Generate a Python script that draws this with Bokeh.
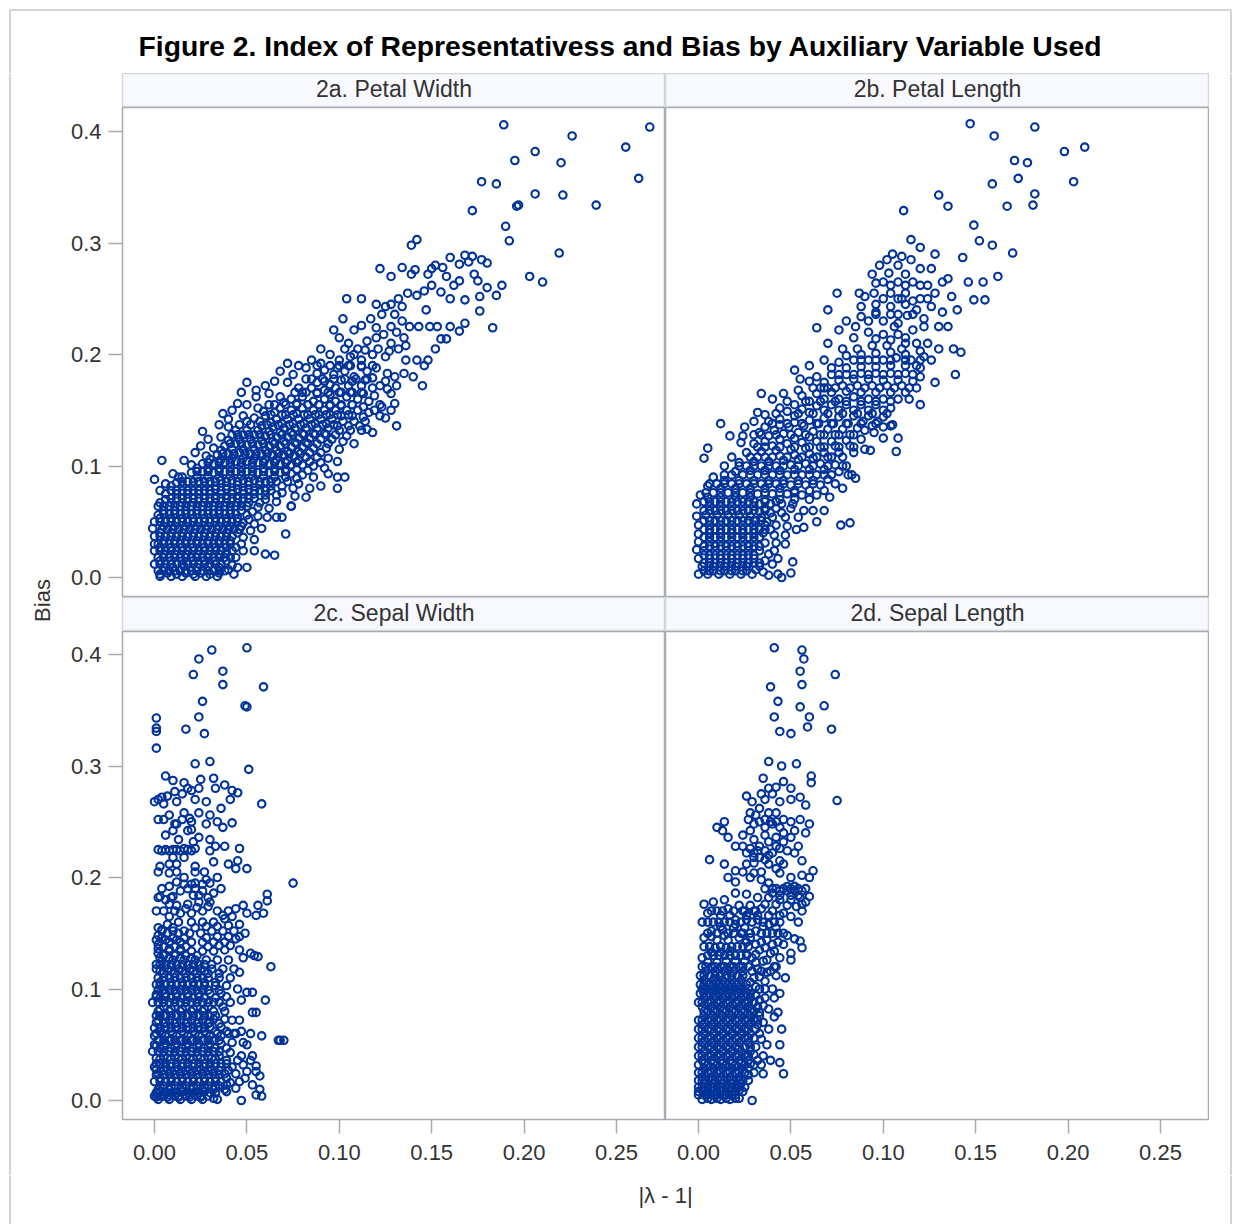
from bokeh.plotting import figure
from bokeh.layouts import column, row
from bokeh.models import Range1d, Label, FixedTicker, NumeralTickFormatter
from bokeh.embed import file_html
from bokeh.resources import INLINE
from bokeh.core.validation import silence
from bokeh.core.validation.warnings import MISSING_RENDERERS

silence(MISSING_RENDERERS, True)

TITLE = "Figure 2. Index of Representativess and Bias by Auxiliary Variable Used"
X_LABEL = "|λ - 1|"
Y_LABEL = "Bias"
PANEL_TITLES = ["2a. Petal Width", "2b. Petal Length", "2c. Sepal Width", "2d. Sepal Length"]
X_TICKS = [0.00, 0.05, 0.10, 0.15, 0.20, 0.25]
Y_TICKS = [0.0, 0.1, 0.2, 0.3, 0.4]

# (|lambda - 1|, Bias) pairs, in thousandths
petal_width = [
(189,406),(268,404),(226,396),(206,382),(255,386),(220,372),(195,374),(177,355),(185,353),(262,358),(206,344),(221,343),
(172,329),(196,333),(197,334),(239,334),(190,315),(192,302),(142,303),(139,298),(219,291),(203,270),(210,265),
(168,289),(172,288),(160,287),(177,285),(180,282),(152,280),(150,277),(148,272),(141,276),(139,272),(134,278),(128,270),(122,277),
(165,281),(170,283),(156,278),(158,270),(162,262),(165,266),(173,272),(175,266),(180,260),(188,262),(185,253),(176,252),(168,249),
(160,250),(155,256),(150,262),(146,257),(142,253),(137,255),(132,250),(128,245),(125,243),(120,245),(112,250),(104,250),(176,239),
(183,224),(168,228),(165,221),(160,225),(158,214),(149,225),(153,225),(134,230),(128,225),(120,224),(112,226),(102,232),(108,222),(97,222),
(90,205),(95,200),(100,215),(105,210),(110,205),(115,212),(120,215),(124,218),(128,210),(132,205),(136,195),(125,198),(118,200),(112,195),
(106,198),(100,195),(95,190),(90,192),(85,195),(82,188),(78,190),(72,192),(68,185),(75,182),(82,178),(88,183),(92,176),(97,182),(103,185),
(108,180),(115,185),(120,188),(126,183),(130,180),(135,183),(142,195),(148,195),(122,172),(128,165),(118,170),(112,172),(105,172),(98,170),
(92,168),(85,170),(78,170),(72,175),(65,176),(60,172),(55,168),(50,175),(47,166),(55,162),(62,165),(68,162),(74,160),(80,162),(86,158),
(92,160),(98,158),(104,162),(110,160),(116,158),(122,155),(128,150),(122,145),(116,148),(110,150),(104,150),(98,150),(92,150),(86,150),
(80,152),(74,150),(68,152),(62,155),(56,152),(50,155),(45,156),(42,150),(37,147),(40,142),(48,145),(54,143),(60,145),(66,142),(72,142),
(78,142),(84,142),(90,142),(96,142),(102,140),(108,140),(114,140),(118,130),(112,132),(106,132),(100,132),(94,134),(88,134),(82,134),
(76,134),(70,134),(64,135),(58,136),(52,137),(46,137),(40,135),(35,137),(26,131),(29,124),(36,126),(42,128),(48,128),(54,128),(60,127),
(66,126),(72,126),(78,125),(84,125),(90,124),(96,124),(102,122),(108,120),(100,115),(93,116),(86,116),(80,117),(74,117),(68,118),(62,118),
(56,119),(50,119),(44,120),(38,118),(32,116),(25,118),(22,112),(28,109),(34,110),(40,111),(46,112),(52,111),(58,111),(64,110),(70,110),
(76,109),(82,108),(88,108),(94,107),(99,104),(92,98),(86,100),(80,101),(74,101),(68,102),(62,102),(56,103),(50,104),(44,104),(38,103),
(32,102),(26,102),(20,101),(16,105),(4,105),(0,88),(10,93),(15,90),(20,94),(26,95),(32,94),(38,95),(44,95),(50,95),(56,94),(62,94),
(68,94),(74,93),(80,92),(86,90),(94,93),(99,90),(103,90),(99,80),(90,82),(84,80),(78,84),(72,86),(66,86),(60,86),(54,87),(48,87),(42,87),
(36,87),(30,86),(24,86),(18,86),(12,85),(6,84),(3,78),(9,78),(15,78),(21,78),(27,78),(33,79),(39,79),(45,79),(51,79),(57,78),(63,78),
(69,76),(76,73),(82,72),(74,64),(66,68),(60,70),(54,71),(48,71),(42,71),(36,71),(30,71),(24,71),(18,71),(12,71),(6,70),(2,64),(8,64),
(14,64),(20,64),(26,64),(32,64),(38,64),(44,64),(50,64),(56,63),(62,62),(66,54),(69,54),(61,54),(56,55),(50,56),(44,57),(38,57),(32,57),
(26,57),(20,57),(14,57),(8,57),(2,56),(0,50),(6,50),(12,50),(18,50),(24,50),(30,50),(36,50),(42,50),(48,49),(54,48),(58,44),(52,42),
(46,43),(40,43),(34,43),(28,43),(22,43),(16,43),(10,43),(4,43),(-1,44),(0,37),(6,37),(12,37),(18,37),(24,37),(30,37),(36,37),(42,37),(48,36),
(71,39),(54,34),(47,30),(41,30),(35,30),(29,30),(23,30),(17,30),(11,30),(5,30),(0,30),(0,24),(6,24),(12,24),(18,24),(24,24),(30,24),(36,24),
(42,24),(48,24),(54,24),(60,21),(65,20),(44,18),(38,18),(32,18),(26,18),(20,18),(14,18),(8,18),(2,18),(0,12),(6,12),(12,12),(18,12),(24,12),
(30,12),(36,12),(42,11),(45,9),(50,9),(2,6),(8,6),(14,6),(20,6),(26,6),(32,6),(38,6),(43,3),(3,1),(9,1),(15,1),(22,1),(28,1),(34,1),
(74,64),(115,133),(131,136),(125,143),(123,153),(130,156),(145,172),(126,169),(140,180),(146,190),(152,205),(155,214),(135,215),(138,225),
(143,225),(147,240),(134,243),(130,236),
]
petal_width_dense = [
(3,3),(7,4),(12,3),(17,4),(21,3),(25,4),(30,3),(35,4),(40,7),(5,9),(10,9),(16,10),(23,9),(29,10),(35,9),(3,15),(9,15),(15,15),(21,15),(27,15),(33,15),(39,15),
(5,21),(11,21),(17,21),(23,21),(29,21),(35,21),(39,22),(3,27),(9,27),(15,27),(21,27),(27,27),(33,27),(39,27),(44,27),(5,33),(11,33),(17,33),(23,33),(29,33),(35,33),
(41,33),(3,40),(9,40),(15,40),(21,40),(27,40),(33,40),(39,40),(45,40),(5,46),(11,46),(17,46),(23,46),(29,46),(35,46),(41,46),(47,46),(3,53),(9,53),(15,53),(21,53),
(27,53),(33,53),(39,53),(45,53),(51,52),(5,60),(11,60),(17,60),(23,60),(29,60),(35,60),(41,60),(47,60),(53,59),(3,67),(9,67),(15,67),(21,67),(27,67),(33,67),(39,67),
(45,67),(51,67),(57,67),(6,75),(12,75),(18,75),(24,75),(30,75),(36,75),(42,75),(48,75),(54,75),(60,74),(66,74),(9,82),(15,82),(21,82),(27,82),(33,82),(39,82),(45,83),
(51,83),(57,83),(63,82),(69,82),(75,80),(13,90),(23,90),(29,90),(35,90),(41,91),(47,91),(53,91),(59,91),(65,90),(71,90),(77,89),(23,98),(29,98),(35,98),(41,99),(47,99),
(53,99),(59,98),(65,98),(71,97),(77,97),(83,96),(30,106),(36,106),(42,107),(48,107),(54,107),(60,106),(66,106),(72,105),(78,105),(84,104),(90,103),(36,114),(42,115),
(48,115),(54,115),(60,114),(66,114),(72,113),(78,113),(84,112),(90,112),(40,123),(46,124),(52,124),(58,123),(64,122),(70,122),(76,121),(82,121),(88,120),(94,120),(44,132),
(50,132),(56,132),(62,131),(68,130),(74,130),(80,129),(86,129),(92,129),(98,128),(104,127),(50,140),(57,140),(63,139),(69,138),(75,138),(81,138),(87,138),(93,138),(99,136),
(105,136),(111,136),(59,149),(65,148),(71,146),(77,147),(83,146),(89,146),(95,146),(101,145),(107,145),(113,144),(70,157),(77,156),(83,155),(89,155),(95,154),(101,154),
(107,155),(113,153),(119,150),(80,166),(88,165),(95,164),(101,166),(107,166),(113,165),(119,163),(88,175),(95,173),(101,177),(107,176),(114,177),(92,186),(99,188),(105,190),
(112,189),(118,179),(125,176),(131,172),(103,205),(108,200),(114,204),(121,205),(127,203),(117,232),(123,236),(131,220),(136,208),
]
# further estimated marks in the solid areas: Bias row -> |lambda - 1| values, in thousandths
petal_width_rows = {
6:[5,11,17,23,29,35],12:[3,9,15,21,27,33],18:[5,11,17,23,29,35,41],24:[3,9,15,21,27,33],30:[2,8,14,20,26,32,38],37:[3,9,15,21,27,33,39],
43:[7,13,19,25,31,37,43],50:[3,9,15,21,27,33,39,45],57:[5,11,17,23,29,35,41],64:[5,11,17,23,29,35,41,47],71:[9,15,21,27,33,39,45,51],
78:[12,18,24,30,36,42,48,54,60],86:[15,21,27,33,39,45,51,57,63],95:[23,29,35,41,47,53,59,65,71],103:[29,35,41,47,53,59,65,71,77],
111:[37,43,49,55,61,67,73,79],120:[41,47,53,59,65,71,77,83],128:[45,51,57,63,69,75,81,87,93],137:[61,67,73,79,85,91,97],
146:[63,69,75,81,87,93,99,105],155:[65,71,77,83,89,95,101,107],166:[76,82,88,94,100,106,112],178:[85,91,97,103,109,115],190:[88,100,106,112,118],
}

petal_length = [
(147,407),(182,404),(160,396),(209,386),(198,382),(171,374),(178,372),(173,358),(203,355),(159,353),(182,344),(130,343),(181,334),(135,333),
(167,333),(111,329),(149,316),(152,302),(115,303),(159,298),(170,291),(143,287),(162,270),(154,265),(149,249),(155,249),(137,252),(142,202),
(139,182),(107,113),(93,114),(82,49),(77,47),(12,138),(5,116),(3,107),(17,127),(24,127),(23,121),(64,50),(68,60),(57,45),(51,14),(50,4),(45,0),
(43,3),(38,2),(85,89),(81,92),
(105,290),(110,288),(102,285),(98,280),(108,280),(115,285),(120,277),(126,277),(112,272),(103,273),(94,272),(100,265),(108,265),(116,265),(124,262),
(132,265),(128,255),(120,250),(112,255),(104,255),(95,255),(87,255),(75,255),(118,240),(126,243),(132,238),(122,232),(130,225),(122,225),(113,235),
(104,243),(96,245),(88,243),(80,230),(85,225),(92,230),(100,230),(108,228),(116,222),(108,218),(100,218),(92,220),(84,215),(76,222),(64,224),(70,210),
(78,205),(86,205),(94,208),(102,208),(110,205),(118,210),(124,210),(130,205),(122,198),(115,195),(107,197),(100,195),(92,195),(84,195),(76,193),(68,195),
(60,190),(52,186),(55,178),(64,180),(72,182),(80,182),(88,183),(96,183),(104,183),(112,183),(120,180),(128,175),(118,170),(110,172),(102,172),(94,172),
(86,172),(78,172),(70,170),(62,170),(54,168),(46,165),(40,160),(34,165),(44,152),(52,155),(60,158),(68,160),(76,160),(84,162),(92,160),(100,160),(108,160),
(114,160),(100,150),(92,150),(84,150),(76,150),(68,150),(60,148),(52,145),(44,142),(38,140),(32,148),(30,140),(25,135),(33,130),(41,132),(49,135),(57,136),
(65,138),(73,138),(81,138),(89,140),(97,140),(105,137),(84,128),(76,128),(68,128),(60,126),(52,125),(44,124),(36,122),(30,120),(26,112),(34,113),(42,114),
(50,115),(58,116),(66,117),(74,118),(82,118),(90,115),(78,108),(70,108),(62,107),(54,106),(46,105),(38,104),(30,104),(22,103),(14,100),(18,108),(20,95),
(28,96),(36,96),(44,96),(52,97),(60,97),(68,97),(76,95),(83,92),(70,88),(62,87),(54,87),(46,87),(38,87),(30,87),(22,87),(14,87),(8,90),(5,82),(12,80),
(20,80),(28,80),(36,80),(44,80),(52,78),(60,78),(68,78),(78,80),(71,72),(60,70),(52,70),(44,70),(36,70),(28,72),(20,72),(12,72),(5,72),(1,74),(-1,66),
(6,64),(12,64),(18,64),(24,64),(30,64),(36,62),(42,62),(50,62),(57,60),(62,60),(54,54),(47,54),(40,54),(34,54),(28,55),(22,56),(16,56),(10,56),(4,56),
(-1,55),(0,47),(6,47),(12,47),(18,47),(24,47),(30,47),(36,47),(42,47),(48,46),(53,43),(47,38),(41,38),(35,40),(30,40),(24,40),(18,40),(12,40),(6,40),
(0,39),(0,32),(6,32),(12,32),(18,32),(24,32),(30,32),(36,31),(42,31),(47,30),(41,24),(38,21),(33,24),(27,24),(21,24),(15,24),(9,24),(3,24),(-1,25),(0,17),
(6,17),(12,17),(18,17),(24,17),(30,17),(36,15),(43,17),(40,12),(33,10),(26,10),(20,10),(14,10),(8,10),(2,10),(0,3),(5,3),(11,3),(17,3),(23,3),(29,3),(35,5),
(146,265),(140,240),(135,225),(138,205),(126,195),(118,190),(112,210),(106,225),(128,290),(120,296),(96,264),(90,252),(70,240),(96,238),(112,245),
(135,268),(110,250),(68,170),(120,155),(95,130),(90,132),(100,125),(100,135),(104,136),(108,125),
]
petal_length_dense = [
(3,6),(8,6),(14,6),(20,6),(26,6),(31,7),(3,13),(9,13),(15,13),(21,13),(27,13),(33,13),(3,20),(9,20),(15,20),(21,20),(27,20),(3,28),(9,28),(15,28),(21,28),(27,28),(33,28),
(3,36),(9,36),(15,36),(21,36),(27,36),(33,36),(3,43),(9,43),(15,43),(21,43),(27,43),(33,43),(39,43),(3,51),(9,51),(15,51),(21,51),(27,51),(31,51),(37,50),(3,60),(9,60),(15,60),
(21,60),(27,60),(33,59),(39,58),(45,58),(3,68),(9,68),(15,68),(21,68),(27,68),(33,66),(39,66),(45,66),(51,66),(8,76),(16,76),(24,76),(32,75),(40,75),(48,75),(56,74),(64,74),
(10,84),(18,84),(26,84),(34,84),(42,84),(50,83),(58,83),(66,83),(74,84),(14,92),(24,92),(32,92),(40,92),(48,92),(56,92),(64,92),(72,92),(26,100),(34,100),(42,100),(50,101),(58,102),
(66,102),(74,101),(80,100),(28,108),(36,108),(44,109),(52,110),(60,111),(68,112),(76,112),(84,112),(32,117),(40,118),(48,120),(56,121),(64,122),(72,122),(80,123),(88,124),(30,128),
(38,127),(46,129),(54,130),(62,131),(70,133),(78,133),(86,134),(94,136),(36,135),(44,137),(52,139),(60,141),(68,143),(76,144),(84,145),(92,145),(100,144),(36,146),(48,149),(56,151),
(64,154),(72,155),(80,155),(88,155),(96,155),(104,152),(48,158),(56,163),(64,165),(72,166),(80,167),(88,166),(96,166),(104,166),(112,166),(60,176),(68,175),(76,177),(84,178),(92,178),
(100,177),(108,177),(116,176),(72,188),(80,188),(88,189),(96,189),(104,190),(112,190),(120,188),(80,199),(88,200),(96,201),(104,202),(112,200),(120,203),(96,214),(104,213),(112,215),
(88,234),(96,236),(104,236),(108,236),(116,236),(100,250),(108,250),(116,248),(124,250),(104,262),(112,262),(120,262),
]
petal_length_rows = {
6:[6,12,18,24],13:[6,12,18,24,30],20:[6,12,18,24,30],28:[6,12,18,24,30],36:[6,12,18,24,30],43:[6,12,18,24,30,36],51:[6,12,18,24,30,34],
60:[6,12,18,24,30,36],68:[6,12,18,24,30,36,42],76:[4,12,20,28,36,44,52],84:[6,14,22,30,38,46,54,62],92:[18,28,36,44,52,60,68],
100:[22,30,38,46,54,62,70,78],108:[32,40,48,56,64,72],117:[36,44,52,60,68,76,84],128:[34,42,50,58,66,74,82],138:[40,48,56,64,72,80,88,96],
147:[42,54,62,70,78,86,94,102],158:[58,66,74,80,88,96,104],170:[66,74,82,90,98,106,114],182:[76,84,92,100,108,116],195:[88,96,104,112,120],
}

sepal_width = [
(50,406),(31,404),(24,396),(37,385),(21,382),(37,373),(59,371),(26,358),(50,353),(49,354),(24,344),(1,343),(1,334),(1,331),(17,333),(27,329),
(1,316),(51,297),(6,291),(22,302),(30,304),(58,266),(75,195),(61,185),(61,179),(56,175),(59,168),(55,166),(63,120),(56,129),(54,130),(60,90),(53,97),
(50,97),(55,79),(53,79),(68,54),(67,54),(70,54),(58,58),(58,4),(47,0),(57,22),(55,31),
(10,287),(16,285),(25,288),(32,289),(38,283),(42,278),(45,276),(33,280),(18,280),(11,277),(7,273),(2,270),(0,268),(5,266),(12,268),(22,270),(28,268),
(41,270),(36,262),(30,256),(24,258),(16,258),(8,256),(2,252),(12,248),(20,250),(28,248),(34,250),(42,249),(10,242),(18,242),(6,238),(24,236),(30,234),
(2,225),(6,225),(10,225),(14,224),(18,225),(30,224),(38,228),(46,226),(45,215),(40,212),(44,208),(50,208),(32,214),(22,210),(12,212),(2,205),
(16,200),(22,195),(28,198),(34,200),(2,182),(6,180),(10,183),(14,188),(18,190),(22,190),(26,188),(32,186),(36,190),(12,175),(18,176),(24,178),(30,178),
(5,170),(1,170),(8,165),(14,168),(20,168),(26,170),(34,170),(40,170),(44,172),(48,175),(50,168),(38,163),(32,160),(26,160),(20,160),(13,160),(7,158),
(2,155),(2,148),(7,150),(13,150),(19,150),(25,150),(31,152),(37,152),(43,152),(49,150),(44,145),(38,142),(32,142),(26,142),(20,142),(14,142),(8,142),
(2,140),(2,132),(8,134),(14,134),(20,134),(26,134),(32,134),(38,135),(46,135),(48,128),(52,132),(40,126),(34,126),(28,126),(22,126),(16,126),(10,126),
(4,125),(1,118),(7,118),(13,118),(19,118),(25,118),(31,118),(37,118),(43,118),(46,115),(41,110),(35,110),(29,110),(23,110),(17,110),(11,110),(5,110),
(3,103),(9,103),(15,103),(21,103),(27,103),(33,103),(39,103),(45,100),(36,96),(30,96),(24,96),(18,96),(12,96),(6,96),(1,95),(-1,88),(5,88),(11,88),
(17,88),(23,88),(29,88),(35,88),(41,88),(47,90),(38,80),(32,80),(26,80),(20,80),(14,80),(8,80),(2,80),(2,72),(8,72),(14,72),(20,72),(26,72),(32,73),
(38,73),(42,72),(36,66),(30,66),(24,66),(18,66),(12,66),(6,66),(0,65),(0,58),(6,58),(12,58),(18,58),(24,58),(30,58),(36,58),(43,60),(47,62),(52,60),
(48,52),(42,52),(36,51),(30,51),(24,51),(18,51),(12,51),(6,51),(0,50),(-1,44),(5,44),(11,44),(17,44),(23,44),(29,44),(35,44),(41,43),(47,40),(53,40),
(45,36),(39,36),(33,37),(27,37),(21,37),(15,37),(9,37),(3,37),(0,30),(6,30),(12,30),(18,30),(24,30),(30,30),(36,30),(42,30),(48,32),(52,36),(55,26),
(50,26),(44,24),(38,24),(32,24),(26,24),(20,24),(14,24),(8,24),(2,24),(0,17),(6,17),(12,17),(18,17),(24,17),(30,17),(36,17),(41,16),(46,17),(49,20),
(53,14),(44,11),(38,10),(32,10),(26,10),(20,10),(14,10),(8,10),(2,10),(0,4),(5,4),(11,4),(17,4),(23,4),(29,4),(32,2),(34,1),(2,1),(8,1),(14,1),(20,1),(26,1),
(46,72),(50,50),(44,60),(40,60),(55,5),(57,10),
]
sepal_width_dense = [
(3,4),(8,5),(13,4),(19,5),(25,4),(3,8),(9,7),(15,8),(21,7),(27,8),(33,7),(39,8),(5,13),(11,13),(17,13),(23,13),(29,13),(35,13),(39,14),(3,20),(9,20),(15,20),(21,20),(27,20),(33,20),
(39,20),(5,27),(11,27),(17,27),(23,27),(29,27),(35,27),(40,27),(3,33),(9,33),(15,33),(21,33),(27,33),(33,33),(39,33),(5,40),(11,40),(17,40),(23,40),(29,40),(35,40),(3,47),(9,47),(15,47),
(21,47),(27,47),(33,47),(39,47),(5,54),(11,54),(17,54),(23,54),(29,54),(35,54),(3,62),(9,62),(15,62),(21,62),(27,62),(33,62),(39,62),(5,69),(11,69),(17,69),(23,69),(29,69),(35,69),(3,76),
(9,76),(15,76),(21,76),(27,76),(33,76),(5,84),(11,84),(17,84),(23,84),(29,84),(37,84),(3,92),(9,92),(15,92),(21,92),(27,92),(33,92),(39,93),(5,99),(11,99),(17,99),(23,99),(29,99),(35,99),
(3,106),(9,106),(15,106),(21,106),(27,106),(33,106),(5,114),(11,114),(17,114),(23,114),(29,114),(35,114),(3,122),(9,122),(15,122),(21,122),(27,122),(31,122),(5,130),(11,130),(17,130),(23,130),
(5,138),(11,138),(17,138),(29,138),(35,139),(41,139),(4,146),(10,146),(16,146),(28,146),(34,147),(40,147),(46,147),(4,153),(10,155),(22,155),(28,156),(34,156),(40,157),(46,158),(11,170),(17,172),
(23,173),(29,174),(37,166),(42,165),(8,176),(21,184),(24,184),(29,182),(4,190),(8,192),(16,194),(20,194),(26,194),(30,195),(12,196),(3,183),(9,182),(4,224),(8,224),(12,225),(16,226),(20,224),
(22,226),(10,218),(16,218),(3,210),(8,212),(8,204),(12,205),(22,205),(27,205),(5,252),(15,252),(19,253),(4,272),(15,275),(20,278),(24,280),(11,248),(20,243),(37,245),(13,234),(21,232),(33,228),
]
sepal_width_rows = {
3:[1,7,13,19,25],7:[1,6,12,18,24,30],12:[3,9,15,21,27,33],17:[3,9,15,21,27,33],23:[1,5,11,17,23,29,35],28:[1,7,13,19,25,31],33:[1,6,12,18,24,30,36],
38:[1,7,13,19,25,31],44:[2,8,14,20,26,32],49:[1,5,11,17,23,29],54:[2,8,14,20,26,32],60:[1,4,10,16,22,28,34],65:[3,9,15,21,27],70:[1,6,12,18,24,30],
76:[1,6,12,18,24,30],82:[3,9,15,21,27],88:[2,8,14,20,26,32],93:[1,6,12,18,24],99:[2,8,14,20,26],104:[1,6,12,18,24],110:[2,8,14,20,26],116:[3,9,15,21,27],
122:[1,6,12,18,24],128:[3,8,14,20],136:[2,8,14],144:[1,6,12],152:[4,10,16],
}

sepal_length = [
(41,406),(56,404),(57,396),(74,382),(55,385),(56,373),(39,371),(43,358),(55,353),(68,354),(41,344),(60,344),(44,331),(59,335),(72,333),(50,329),
(75,269),(62,206),(38,304),(53,302),(45,300),(61,291),(61,285),(46,286),(6,216),(29,0),(46,24),(44,34),(44,50),(45,64),(43,79),(41,75),(56,137),(55,143),
(50,132),(54,160),(56,170),(47,110),(44,96),
(35,289),(38,280),(42,281),(50,280),(55,272),(58,265),(26,273),(29,268),(36,270),(40,275),(44,268),(33,262),(38,258),(42,258),(46,252),(50,250),
(55,252),(60,248),(27,252),(30,248),(33,250),(36,245),(40,248),(46,240),(52,242),(58,240),(24,238),(28,242),(30,234),(33,228),(38,232),(46,232),(54,228),
(10,245),(14,250),(13,242),(16,236),(20,228),(24,228),(28,226),(32,224),(36,224),(40,222),(44,226),(48,224),(52,222),(56,215),(44,215),(36,216),(30,213),
(26,212),(20,206),(14,212),(16,200),(20,196),(24,205),(28,200),(34,198),(38,195),(42,190),(46,190),(50,190),(54,190),(58,190),(60,200),(44,204),(50,200),
(56,202),(55,182),(60,183),(50,180),(44,180),(38,182),(32,182),(26,185),(20,186),(14,180),(8,178),(3,176),(5,168),(10,170),(16,172),(22,175),(28,175),
(34,172),(40,170),(46,168),(50,165),(44,160),(38,158),(32,162),(26,162),(20,162),(14,160),(8,160),(2,160),(7,152),(13,153),(19,155),(25,155),(31,152),
(37,150),(43,150),(48,148),(52,145),(46,140),(40,140),(34,142),(28,146),(22,146),(16,144),(10,144),(3,146),(3,138),(9,137),(15,137),(21,138),(27,138),
(33,135),(39,132),(44,128),(50,126),(41,120),(35,125),(29,128),(23,130),(17,130),(11,130),(5,130),(2,128),(2,120),(7,120),(12,120),(17,120),(22,120),(27,120),
(32,118),(37,115),(42,112),(36,107),(30,110),(24,112),(18,112),(12,112),(6,112),(1,112),(1,104),(6,104),(11,104),(16,104),(21,104),(26,104),(31,102),
(36,100),(40,100),(41,92),(36,92),(31,94),(26,96),(21,96),(16,96),(11,96),(6,96),(1,96),(0,88),(5,88),(10,88),(15,88),(20,88),(25,88),(30,88),(35,85),
(38,82),(33,79),(28,80),(23,80),(18,80),(13,80),(8,80),(3,80),(0,72),(5,72),(10,72),(15,72),(20,72),(25,72),(30,72),(35,70),(38,64),(31,64),(25,64),
(20,64),(15,64),(10,64),(5,64),(0,64),(0,56),(5,56),(10,56),(15,56),(20,56),(25,56),(30,56),(34,55),(37,50),(31,48),(25,48),(20,48),(15,48),(10,48),
(5,48),(0,48),(0,40),(5,40),(10,40),(15,40),(20,40),(25,41),(30,41),(35,40),(39,36),(34,32),(28,33),(23,33),(18,33),(13,33),(8,33),(3,33),(0,32),
(0,25),(5,25),(10,25),(15,25),(20,25),(25,25),(30,25),(35,24),(27,18),(22,18),(17,18),(12,18),(7,18),(2,18),(0,12),(5,12),(10,12),(15,12),(20,12),
(25,12),(0,5),(5,5),(10,5),(15,5),(20,5),(24,8),(2,1),(7,1),(12,1),(17,1),(22,2),
]
sepal_length_dense = [
(3,5),(8,5),(13,5),(18,5),(2,9),(7,9),(12,9),(17,9),(22,9),(3,15),(8,15),(13,15),(18,15),(23,15),(2,21),(7,21),(12,21),(17,21),(22,21),(27,23),(3,29),(8,29),(13,29),(18,29),(23,29),(27,29),
(2,36),(7,36),(12,36),(17,36),(22,36),(27,36),(32,36),(3,44),(8,44),(13,44),(18,44),(23,44),(28,44),(2,52),(7,52),(12,52),(17,52),(22,52),(27,52),(3,60),(8,60),(13,60),(18,60),(23,60),(28,60),
(33,60),(2,68),(7,68),(12,68),(17,68),(22,68),(27,68),(32,68),(3,76),(8,76),(13,76),(18,76),(23,76),(28,76),(33,76),(2,84),(7,84),(12,84),(17,84),(22,84),(27,84),(32,84),(3,92),(8,92),(13,92),
(18,92),(23,92),(28,92),(33,90),(2,100),(7,100),(12,100),(17,100),(22,100),(27,100),(33,100),(3,108),(8,108),(13,108),(18,108),(23,108),(28,106),(33,111),(4,116),(9,116),(14,116),(19,116),(24,116),
(29,116),(34,116),(39,116),(5,124),(10,124),(15,125),(20,125),(25,125),(31,124),(26,131),(31,131),(37,126),(42,120),(36,137),(41,134),(7,133),(12,133),(17,134),(31,140),(37,144),(43,142),(26,142),(19,150),
(14,148),(7,147),(12,156),(23,150),(28,150),(35,156),(42,155),(46,150),(20,158),(26,166),(32,166),(38,166),(44,166),(17,166),(12,166),(24,170),(30,170),(36,176),(42,176),(48,175),(53,174),(56,176),
(58,178),(36,190),(40,190),(44,188),(48,188),(52,188),(56,188),(48,192),(52,192),(40,186),(44,184),(50,184),(54,184),(30,204),(34,205),(38,212),(42,208),(46,212),(30,218),(38,220),(33,218),(26,222),
(30,222),(42,228),(36,238),(42,236),(50,236),(28,258),(31,256),(36,252),(39,250),(42,250),(44,245),(50,270),(34,275),
]
sepal_length_rows = {
2:[5,10,15,20],8:[0,5,10,15,20],12:[2,7,12,17,22],18:[0,4,9,14,19,24],25:[2,7,12,17,22],32:[5,10,15,20,25,30],40:[2,7,12,17,22,27],48:[2,7,12,17,22,28],
56:[2,7,12,17,22,27],64:[2,7,12,17,22,27],72:[2,7,12,17,22,27,32],80:[5,10,15,20,25,30],88:[2,7,12,17,22,27],96:[3,8,13,18,23,28],104:[3,8,13,18,23],
112:[3,9,15,21],120:[4,9,14,19,24],130:[8,14,20,26],138:[6,12,18,24],150:[5,10,16,24,34,40],160:[5,11,17,23,29,35,41],170:[7,13,19,25,31],
}

BLUE = "#003399"
GREY = "#a8acb0"
BORDER = "#d3d3d3"
FONT = "Liberation Sans"
INK = "#333333"
PX_X = 1848.0
PX_Y = 1115.0


def gather(points, dense, rows):
    xs = [v[0] / 1000 for v in points + dense]
    ys = [v[1] / 1000 for v in points + dense]
    for bias, lams in rows.items():
        for lam in lams:
            xs.append(lam / 1000)
            ys.append(bias / 1000)
    return xs, ys


def panel(data, left, frame_w, x_start, y_zero_px, frame_h, bottom_px, axis_x, axis_y):
    y_bottom = -y_zero_px / PX_Y
    y_top = (frame_h - y_zero_px) / PX_Y
    p = figure(width=left + frame_w, height=frame_h + bottom_px,
               x_range=Range1d(x_start, x_start + frame_w / PX_X),
               y_range=Range1d(y_bottom, y_top),
               toolbar_location=None, output_backend="svg",
               min_border_left=left, min_border_right=0, min_border_top=0, min_border_bottom=bottom_px)
    p.grid.visible = False
    p.outline_line_color = GREY
    p.outline_line_width = 1.5
    p.scatter(data[0], data[1], marker="circle", size=7.5,
              fill_color=None, line_color=BLUE, line_width=2.1)
    for ax, on, ticks, fmt, standoff in ((p.xaxis[0], axis_x, X_TICKS, "0.00", 11), (p.yaxis[0], axis_y, Y_TICKS, "0.0", 7)):
        ax.visible = on
        ax.ticker = FixedTicker(ticks=ticks)
        ax.formatter = NumeralTickFormatter(format=fmt)
        ax.minor_tick_line_color = None
        ax.axis_line_color = None
        ax.major_tick_line_color = GREY
        ax.major_tick_line_width = 1.5
        ax.major_tick_out = 14
        ax.major_tick_in = 0
        ax.major_label_standoff = standoff
        ax.major_label_text_font = FONT
        ax.major_label_text_font_size = "22px"
        ax.major_label_text_color = INK
    return p


def strip(text, left, frame_w):
    p = figure(width=left + frame_w, height=34, x_range=Range1d(0, 1), y_range=Range1d(0, 1),
               toolbar_location=None, output_backend="svg",
               min_border_left=left, min_border_right=0, min_border_top=0, min_border_bottom=0,
               background_fill_color="#f8f9fe")
    p.axis.visible = False
    p.grid.visible = False
    p.outline_line_color = "#d4d7da"
    p.outline_line_width = 1.5
    p.add_layout(Label(x=0.5, y=0.54, text=text, text_align="center", text_baseline="middle",
                       text_font=FONT, text_font_size="23px", text_color=INK))
    return p


def text_band(w, h, text=None, x=0, y=0, size="22px", style="normal", color=INK, angle=0.0, sides=(), top=None):
    p = figure(width=w, height=h, x_range=Range1d(0, w), y_range=Range1d(h, 0),
               toolbar_location=None, output_backend="svg",
               min_border_left=0, min_border_right=0, min_border_top=0, min_border_bottom=0)
    p.axis.visible = False
    p.grid.visible = False
    p.outline_line_color = None
    for sx in sides:
        p.line([sx, sx], [top if top is not None else 0, h], line_color=BORDER, line_width=2)
    if top is not None:
        p.line([sides[0], sides[-1]], [top, top], line_color=BORDER, line_width=2)
    if text:
        p.add_layout(Label(x=x, y=y, text=text, text_align="center", text_baseline="middle", angle=angle,
                           text_font=FONT, text_font_size=size, text_font_style=style, text_color=color))
    return p


EDGE_L, EDGE_R = 9.5, 1230.5
title_band = text_band(1232, 73, TITLE, 620, 45, "28.3px", style="bold", color="#000000", sides=(EDGE_L, EDGE_R), top=9.5)
bias_band = text_band(60, 1102, Y_LABEL, 42, 527, "22px", angle=1.5708, sides=(EDGE_L,))
right_band = text_band(23, 1102, sides=(EDGE_R - 1209,))
x_band = text_band(1232, 49, X_LABEL, 665, 20, "22px", sides=(EDGE_L, EDGE_R))

grid = column(
    row(strip(PANEL_TITLES[0], 62, 543), strip(PANEL_TITLES[1], 0, 544), spacing=0),
    row(panel(gather(petal_width, petal_width_dense, petal_width_rows), 62, 543, -32 / PX_X, 20, 490, 0, False, True),
        panel(gather(petal_length, petal_length_dense, petal_length_rows), 0, 544, -33 / PX_X, 20, 490, 0, False, False), spacing=0),
    row(strip(PANEL_TITLES[2], 62, 543), strip(PANEL_TITLES[3], 0, 544), spacing=0),
    row(panel(gather(sepal_width, sepal_width_dense, sepal_width_rows), 62, 543, -32 / PX_X, 19, 488, 56, True, True),
        panel(gather(sepal_length, sepal_length_dense, sepal_length_rows), 0, 544, -33 / PX_X, 19, 488, 56, True, False), spacing=0),
    spacing=0,
)

root = column(title_band, row(bias_band, grid, right_band, spacing=0), x_band, spacing=0)

open("out.html", "w").write(file_html(root, INLINE))
